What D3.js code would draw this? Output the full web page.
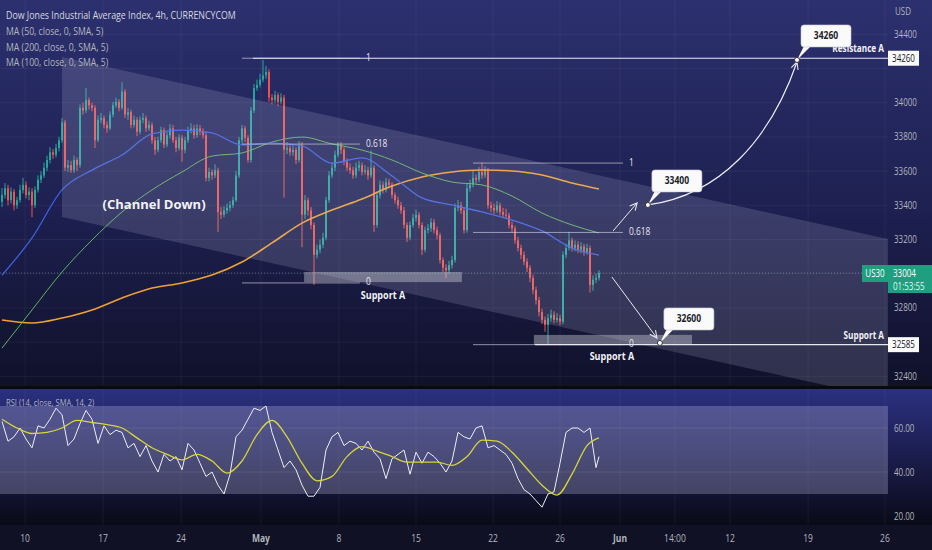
<!DOCTYPE html>
<html><head><meta charset="utf-8">
<script src="https://cdn.jsdelivr.net/npm/d3@7"></script>
<style>
html,body{margin:0;padding:0;background:#0e0f22;overflow:hidden}
svg{display:block}
text{font-family:"Open Sans",sans-serif}
</style></head><body><svg id="c" width="932" height="550"></svg>
<script>
// ---------------- DATA ----------------
const firstOpen = 33420;
const closes = [
33460,33500,33430,33480,33400,33430,33490,33520,33460,33480,
33400,33490,33550,33575,33620,33665,33710,33695,33735,33780,
33885,33620,33635,33605,33665,33635,33970,33955,34015,33985,
33970,33780,33900,33910,33870,33850,33930,33985,34005,33970,
34065,33930,33945,33870,33900,33830,33900,33910,33850,33870,
33780,33725,33780,33840,33755,33810,33850,33780,33735,33795,
33725,33780,33840,33850,33810,33850,33830,33810,33560,33595,
33575,33605,33360,33345,33370,33385,33400,33430,33575,33780,
33850,33795,33665,33955,34085,34105,34135,34160,34180,34030,
34015,34045,34005,34030,33725,33735,33710,33725,33665,33755,
33345,33430,33370,33285,33110,33140,33170,33210,33430,33575,
33620,33695,33755,33725,33655,33620,33605,33575,33620,33635,
33595,33605,33575,33620,33285,33460,33520,33490,33535,33520,
33460,33430,33400,33370,33285,33210,33285,33325,33345,33285,
33140,33255,33265,33300,33255,33225,33080,33035,33020,33050,
33080,33385,33400,33370,33255,33500,33520,33560,33550,33595,
33575,33605,33400,33385,33370,33400,33360,33345,33340,33285,
33265,33195,33150,33110,33070,33035,32975,32905,32845,32775,
32730,32700,32740,32760,32730,32740,32720,33110,33150,33195,
33150,33170,33140,33160,33125,33150,32935,32965,32975,33004];
const highs = [
33500,33530,33520,33505,33495,33450,33520,33560,33540,33505,
33500,33510,33575,33600,33650,33690,33740,33730,33760,33800,
33910,33900,33665,33660,33690,33680,33990,34000,34085,34030,
34000,33985,33925,33940,33925,33890,33950,34005,34030,34020,
34120,34080,33970,33960,33925,33915,33920,33940,33925,33895,
33885,33800,33800,33860,33855,33830,33875,33870,33800,33815,
33810,33800,33860,33880,33870,33875,33870,33850,33830,33620,
33610,33640,33620,33390,33395,33410,33425,33450,33600,33800,
33870,33865,33810,33975,34110,34135,34170,34250,34215,34195,
34050,34070,34060,34055,34045,33770,33760,33750,33740,33775,
33770,33460,33445,33390,33300,33170,33200,33240,33450,33600,
33650,33720,33770,33770,33740,33675,33645,33625,33650,33660,
33650,33635,33625,33720,33635,33480,33545,33540,33560,33555,
33535,33475,33450,33420,33390,33300,33305,33350,33375,33360,
33300,33275,33290,33325,33320,33275,33240,33095,33055,33075,
33105,33410,33430,33420,33385,33525,33550,33605,33580,33625,
33650,33630,33620,33420,33410,33425,33415,33385,33380,33355,
33305,33280,33215,33170,33130,33090,33050,32995,32925,32865,
32795,32750,32765,32790,32780,32770,32760,33130,33175,33245,
33210,33195,33190,33185,33175,33175,33165,32990,33000,33020];
const lows = [
33390,33440,33400,33410,33370,33380,33415,33470,33440,33430,
33330,33385,33475,33530,33560,33600,33645,33670,33680,33715,
33765,33600,33595,33590,33590,33600,33620,33930,33940,33960,
33950,33735,33770,33880,33850,33825,33840,33915,33970,33950,
33960,33910,33900,33850,33855,33805,33815,33880,33830,33835,
33760,33695,33710,33765,33735,33740,33790,33765,33710,33720,
33655,33705,33765,33820,33790,33795,33810,33790,33540,33540,
33550,33560,33245,33320,33330,33350,33365,33385,33420,33560,
33760,33770,33650,33650,33940,34070,34090,34120,34140,34005,
33990,33995,33980,33990,33445,33700,33690,33690,33640,33650,
33155,33320,33340,33260,32935,33090,33120,33150,33195,33415,
33560,33600,33680,33700,33635,33600,33585,33555,33560,33600,
33575,33580,33550,33560,33245,33270,33440,33470,33475,33500,
33440,33410,33380,33350,33265,33185,33195,33270,33305,33265,
33110,33125,33235,33245,33235,33200,33060,33010,32975,33000,
33030,33065,33365,33350,33235,33240,33480,33505,33530,33535,
33555,33560,33380,33360,33350,33355,33340,33325,33320,33265,
33240,33175,33130,33085,33050,33010,32950,32880,32820,32750,
32705,32660,32585,32720,32710,32715,32700,32705,33090,33135,
33130,33130,33120,33120,33105,33110,32890,32900,32945,32960];

// moving averages sampled every 10 candles (last point = last candle)
const ma50  = [32992,33209,33490,33606,33694,33817,33840,33823,33753,33764,33747,33647,33677,33571,33443,33402,33361,33314,33250,33150,33109];
const ma100 = [32565,32788,33010,33197,33361,33490,33595,33688,33706,33770,33799,33759,33723,33665,33589,33536,33519,33454,33355,33285,33238];
const ma200 = [32729,32712,32741,32788,32858,32916,32946,32992,33068,33180,33296,33372,33437,33513,33566,33595,33606,33601,33577,33530,33495];

// RSI sampled every 2 candles, RSI-SMA every 5 candles
const rsi = [63,54,56,60,55,51,61,60,64,69,66,52,55,62,68,64,53,61,57,59,
58,51,53,47,52,45,40,48,45,47,41,53,50,44,38,40,34,30,39,56,
59,64,69,68,70,58,50,42,45,41,34,29,29,33,50,56,58,52,54,53,
50,54,49,46,37,46,48,50,39,49,44,49,47,44,40,45,58,56,55,60,
61,51,52,50,48,44,37,32,30,27,24,30,31,44,58,60,60,58,60,42,47];
const rsiMa = [64,60,57.5,58,60,63.5,62.5,61.5,60,55.5,51,48,45.5,48,45,39.5,45,57,63.5,56,
44,36,38,47,51.5,49.5,47,44.5,44.5,44.5,43,47,54.5,54,49,41.5,34,29.5,39,52,55.5];

const priceTicks = [32400,32600,32800,33000,33200,33400,33600,33800,34000,34200,34400];
const rsiTicks = [20,40,60];
const timeLabels = ["10","17","24","May","8","15","22","26","Jun","14:00","12","19","26"];
const timeIdx = [7.7,33.7,59.7,86.3,112.3,138,163.7,186,206,224.3,242.7,268.7,294.3];

const lastPrice = 33004, resistance = 34260, support = 32585;
const channelIdx = [20,295.3], channelTop = [34267,33203], channelBottom = [33332,32267];
const fib1 = {i0:80, i1:119.3, hi:34260, lo:32946};
const fib2 = {i0:157, i1:207, hi:33647, lo:32585};
const fibLevels = [1,0.618,0];
const zones = [{i0:100.7,i1:153.3,p0:33010,p1:32951},{i0:177.3,i1:230,p0:32642,p1:32583}];
const callouts = [{i:215.3,p:33402,t:"33400"},{i:219.3,p:32595,t:"32600"},{i:265,p:34250,t:"34260"}];
const arrows = [{i0:203.7,p0:33250,i1:211.7,p1:33414},{i0:203.3,p0:32981,i1:218.3,p1:32624}];
const curvePts = [[215.3,33402],[239.3,33460],[256,33782],[265,34238]];

// ---------------- SCALES ----------------
const W=932,H=550,PR=888,PB=386,RT=389,RB=525;
const x = d3.scaleLinear().domain([0,199]).range([2,599]);
const y = d3.scaleLinear().domain([32400,34400]).range([376.3,34.3]);
const yr = d3.scaleLinear().domain([20,60]).range([516,428]);

const svg = d3.select("#c");
const defs = svg.append("defs");
const g1 = defs.append("linearGradient").attr("id","gp").attr("x1",0).attr("y1",0).attr("x2",0).attr("y2",1);
g1.append("stop").attr("offset","0%").attr("stop-color","#2c306e");
g1.append("stop").attr("offset","55%").attr("stop-color","#1d2050");
g1.append("stop").attr("offset","100%").attr("stop-color","#10112a");
const g2 = defs.append("linearGradient").attr("id","gr").attr("x1",0).attr("y1",0).attr("x2",0).attr("y2",1);
g2.append("stop").attr("offset","0%").attr("stop-color","#2b3080");
g2.append("stop").attr("offset","100%").attr("stop-color","#0a0a18");
defs.append("clipPath").attr("id","cp").append("rect").attr("x",0).attr("y",0).attr("width",PR).attr("height",PB);
defs.append("clipPath").attr("id","cr").append("rect").attr("x",0).attr("y",RT).attr("width",PR).attr("height",RB-RT);
defs.append("marker").attr("id","ah").attr("viewBox","0 0 10 10").attr("refX",9).attr("refY",5)
  .attr("markerWidth",9).attr("markerHeight",9).attr("markerUnits","userSpaceOnUse").attr("orient","auto")
  .append("path").attr("d","M1,1L9,5L1,9").attr("fill","none").attr("stroke","#e8e8ee").attr("stroke-width",1.2);

svg.append("rect").attr("width",W).attr("height",H).attr("fill","#101125");
svg.append("rect").attr("width",W).attr("height",PB).attr("fill","url(#gp)");
svg.append("rect").attr("y",PB).attr("width",W).attr("height",RT-PB).attr("fill","#08081a");
svg.append("rect").attr("y",RT).attr("width",W).attr("height",RB-RT).attr("fill","url(#gr)");
svg.append("rect").attr("y",RB).attr("width",W).attr("height",H-RB).attr("fill","#101125");

// grid
const grid = svg.append("g").attr("stroke","rgba(255,255,255,0.05)");
priceTicks.forEach(p=>grid.append("line").attr("x1",0).attr("x2",PR).attr("y1",y(p)).attr("y2",y(p)));
timeIdx.forEach(t=>{grid.append("line").attr("x1",x(t)).attr("x2",x(t)).attr("y1",0).attr("y2",PB);
  grid.append("line").attr("x1",x(t)).attr("x2",x(t)).attr("y1",RT).attr("y2",RB);});

// price pane
const pp = svg.append("g").attr("clip-path","url(#cp)");
const candles = closes.map((c,i)=>({i,o:i?closes[i-1]:firstOpen,c,h:highs[i],l:lows[i]}));
const up="#26a69a", dn="#ef5350";
pp.append("g").selectAll("rect").data(candles).join("rect")
  .attr("x",d=>x(d.i)-0.5).attr("width",1).attr("y",d=>y(d.h)).attr("height",d=>Math.max(1,y(d.l)-y(d.h)))
  .attr("fill",d=>d.c>=d.o?up:dn);
pp.append("g").selectAll("rect").data(candles).join("rect")
  .attr("x",d=>x(d.i)-1).attr("width",2).attr("y",d=>y(Math.max(d.o,d.c)))
  .attr("height",d=>Math.max(1,Math.abs(y(d.o)-y(d.c)))).attr("fill",d=>d.c>=d.o?up:dn);

const maLine = d3.line().x((d,k)=>x(Math.min(k*10,199))).y(d=>y(d)).curve(d3.curveMonotoneX);
pp.append("path").attr("d",maLine(ma200)).attr("fill","none").attr("stroke","#f0a030").attr("stroke-width",1.6);
pp.append("path").attr("d",maLine(ma100)).attr("fill","none").attr("stroke","#5fb35f").attr("stroke-width",1);
pp.append("path").attr("d",maLine(ma50)).attr("fill","none").attr("stroke","#3d5fe0").attr("stroke-width",1.3);

// channel
pp.append("path").attr("d",d3.line()([[x(channelIdx[0]),y(channelTop[0])],[x(channelIdx[1]),y(channelTop[1])],
  [x(channelIdx[1]),y(channelBottom[1])],[x(channelIdx[0]),y(channelBottom[0])]])+"Z")
  .attr("fill","rgba(205,205,235,0.17)");

// zones
zones.forEach(z=>pp.append("rect").attr("x",x(z.i0)).attr("width",x(z.i1)-x(z.i0))
  .attr("y",y(z.p0)).attr("height",y(z.p1)-y(z.p0)).attr("fill","rgba(205,205,215,0.42)"));

// current price line
pp.append("line").attr("x1",0).attr("x2",PR).attr("y1",y(lastPrice)).attr("y2",y(lastPrice))
  .attr("stroke","rgba(150,200,190,0.45)").attr("stroke-dasharray","1,2");

const condensed = [];
const T = (parent,tx,xx,yy,size,opts)=>{ opts=opts||{};
  const t = parent.append("text").attr("x",xx).attr("y",yy).attr("font-size",size)
    .attr("fill",opts.fill||"#f2f2f6").attr("text-anchor",opts.anchor||"start")
    .attr("font-weight",opts.bold?"bold":"normal").text(tx);
  condensed.push([t.node(), opts.k||0.84]); return t; };

// fibs
[fib1,fib2].forEach(f=>{
  fibLevels.forEach(lv=>{
    const p = f.lo + lv*(f.hi-f.lo);
    pp.append("line").attr("x1",x(f.i0)).attr("x2",x(f.i1)).attr("y1",y(p)).attr("y2",y(p))
      .attr("stroke","rgba(210,210,225,0.65)").attr("stroke-width",1);
    T(pp,String(lv),x(f.i1)+6,y(p)+2.5,10,{fill:"#e6e6ee"});
  });
});
// resistance / support lines
pp.append("line").attr("x1",x(83.7)).attr("x2",PR).attr("y1",y(resistance)).attr("y2",y(resistance)).attr("stroke","#e8e8f0").attr("stroke-width",1.2);
pp.append("line").attr("x1",x(177.7)).attr("x2",PR).attr("y1",y(support)).attr("y2",y(support)).attr("stroke","#e8e8f0").attr("stroke-width",1.2);

// labels
T(pp,"(Channel Down)",x(50.7),y(33402)+4.5,13,{bold:true,anchor:"middle",k:1});
T(pp,"Support A",x(127),y(32881)+5,11,{bold:true,anchor:"middle",k:0.82});
T(pp,"Support A",x(203.3),y(32519)+4.5,11,{bold:true,anchor:"middle",k:0.82});
T(pp,"Resistance A",884,y(resistance)-6,10,{bold:true,anchor:"end",k:0.82});
T(pp,"Support A",884,y(support)-6,10,{bold:true,anchor:"end",k:0.82});

// arrows
arrows.forEach(a=>pp.append("line").attr("x1",x(a.i0)).attr("y1",y(a.p0)).attr("x2",x(a.i1)).attr("y2",y(a.p1))
  .attr("stroke","#e8e8ee").attr("stroke-width",1).attr("marker-end","url(#ah)"));
const cp = curvePts.map(d=>[x(d[0]),y(d[1])]);
pp.append("path").attr("d",`M${cp[0]}C${cp[1]} ${cp[2]} ${cp[3]}`).attr("fill","none")
  .attr("stroke","#eeeef2").attr("stroke-width",1.2).attr("marker-end","url(#ah)");

// callouts
callouts.forEach(c=>{
  const px=x(c.i), py=y(c.p);
  pp.append("path").attr("d",`M${px},${py}L${px+7},${py-14}L${px+14},${py-14}Z`).attr("fill","#fafafa");
  pp.append("rect").attr("x",px+4).attr("y",py-35).attr("width",50).attr("height",22).attr("rx",3)
    .attr("fill","#fafafa").attr("stroke","#c8c8d0").attr("stroke-width",0.6);
  T(pp,c.t,px+29,py-20.5,10,{bold:true,anchor:"middle",fill:"#1a1c28",k:0.85});
  pp.append("circle").attr("cx",px).attr("cy",py).attr("r",2.5).attr("fill","#fff").attr("stroke","#333").attr("stroke-width",1);
});

// RSI pane
const rp = svg.append("g").attr("clip-path","url(#cr)");
rp.append("rect").attr("x",0).attr("width",PR).attr("y",yr(70)).attr("height",yr(30)-yr(70)).attr("fill","rgba(205,205,240,0.27)");
[60,40].forEach(v=>rp.append("line").attr("x1",0).attr("x2",PR).attr("y1",yr(v)).attr("y2",yr(v)).attr("stroke","rgba(255,255,255,0.08)"));
rp.append("path").attr("d",d3.line().x((d,k)=>x(Math.min(k*2,199))).y(d=>yr(d))(rsi))
  .attr("fill","none").attr("stroke","#eeeef4").attr("stroke-width",1);
rp.append("path").attr("d",d3.line().x((d,k)=>x(Math.min(k*5,199))).y(d=>yr(d)).curve(d3.curveMonotoneX)(rsiMa))
  .attr("fill","none").attr("stroke","#d8d43a").attr("stroke-width",1.3);

// axes text (tick labels hidden where a price box sits, as on the reference)
const axc="#b2b5be";
const ax = svg.append("g");
const boxed = [resistance,support,lastPrice];
T(ax,"USD",895,15,10,{fill:axc,k:0.8});
priceTicks.filter(p=>boxed.every(b=>Math.abs(y(p)-y(b))>13))
  .forEach(p=>T(ax,String(p),894,y(p)+3.5,10,{fill:axc,k:0.8}));
rsiTicks.forEach(v=>T(ax,v.toFixed(2),894,yr(v)+3.5,10,{fill:axc,k:0.8}));
timeLabels.forEach((t,k)=>T(ax,t,x(timeIdx[k]),542,10,{fill:axc,anchor:"middle",bold:(t==="May"||t==="Jun"),k:0.85}));

// legend
T(svg,"Dow Jones Industrial Average Index, 4h, CURRENCYCOM",6,19,10.5,{fill:"#d6d8e0",k:0.84});
["MA (50, close, 0, SMA, 5)","MA (200, close, 0, SMA, 5)","MA (100, close, 0, SMA, 5)"].forEach((t,k)=>
  T(svg,t,6,35+k*15.5,10,{fill:axc,k:0.87}));
T(svg,"RSI (14, close, SMA, 14, 2)",6,406,9,{fill:axc,k:0.84});

// price boxes
const pbox=(p,tx)=>{svg.append("rect").attr("x",888).attr("y",y(p)-7.5).attr("width",31).attr("height",15).attr("fill","#fafafa");
  T(svg,tx,903.5,y(p)+3.5,10,{anchor:"middle",fill:"#131722",k:0.8});};
pbox(resistance,String(resistance)); pbox(support,String(support));
const teal="#1f9e80";
svg.append("rect").attr("x",862).attr("y",y(lastPrice)-8).attr("width",26).attr("height",17).attr("fill",teal);
T(svg,"US30",875,y(lastPrice)+4,10,{anchor:"middle",fill:"#fff",k:0.8});
svg.append("rect").attr("x",888).attr("y",y(lastPrice)-8).attr("width",44).attr("height",28).attr("fill",teal);
T(svg,String(lastPrice),893,y(lastPrice)+4,10,{fill:"#fff",k:0.8});
T(svg,"01:53:55",893,y(lastPrice)+17,10,{fill:"#e8f5f0",k:0.8});

// condense glyphs horizontally to match the narrow chart font
condensed.forEach(([n,k])=>{ if(k>=1) return; const L=n.getComputedTextLength();
  n.setAttribute("textLength",(L*k).toFixed(1)); n.setAttribute("lengthAdjust","spacingAndGlyphs"); });
</script></body></html>
